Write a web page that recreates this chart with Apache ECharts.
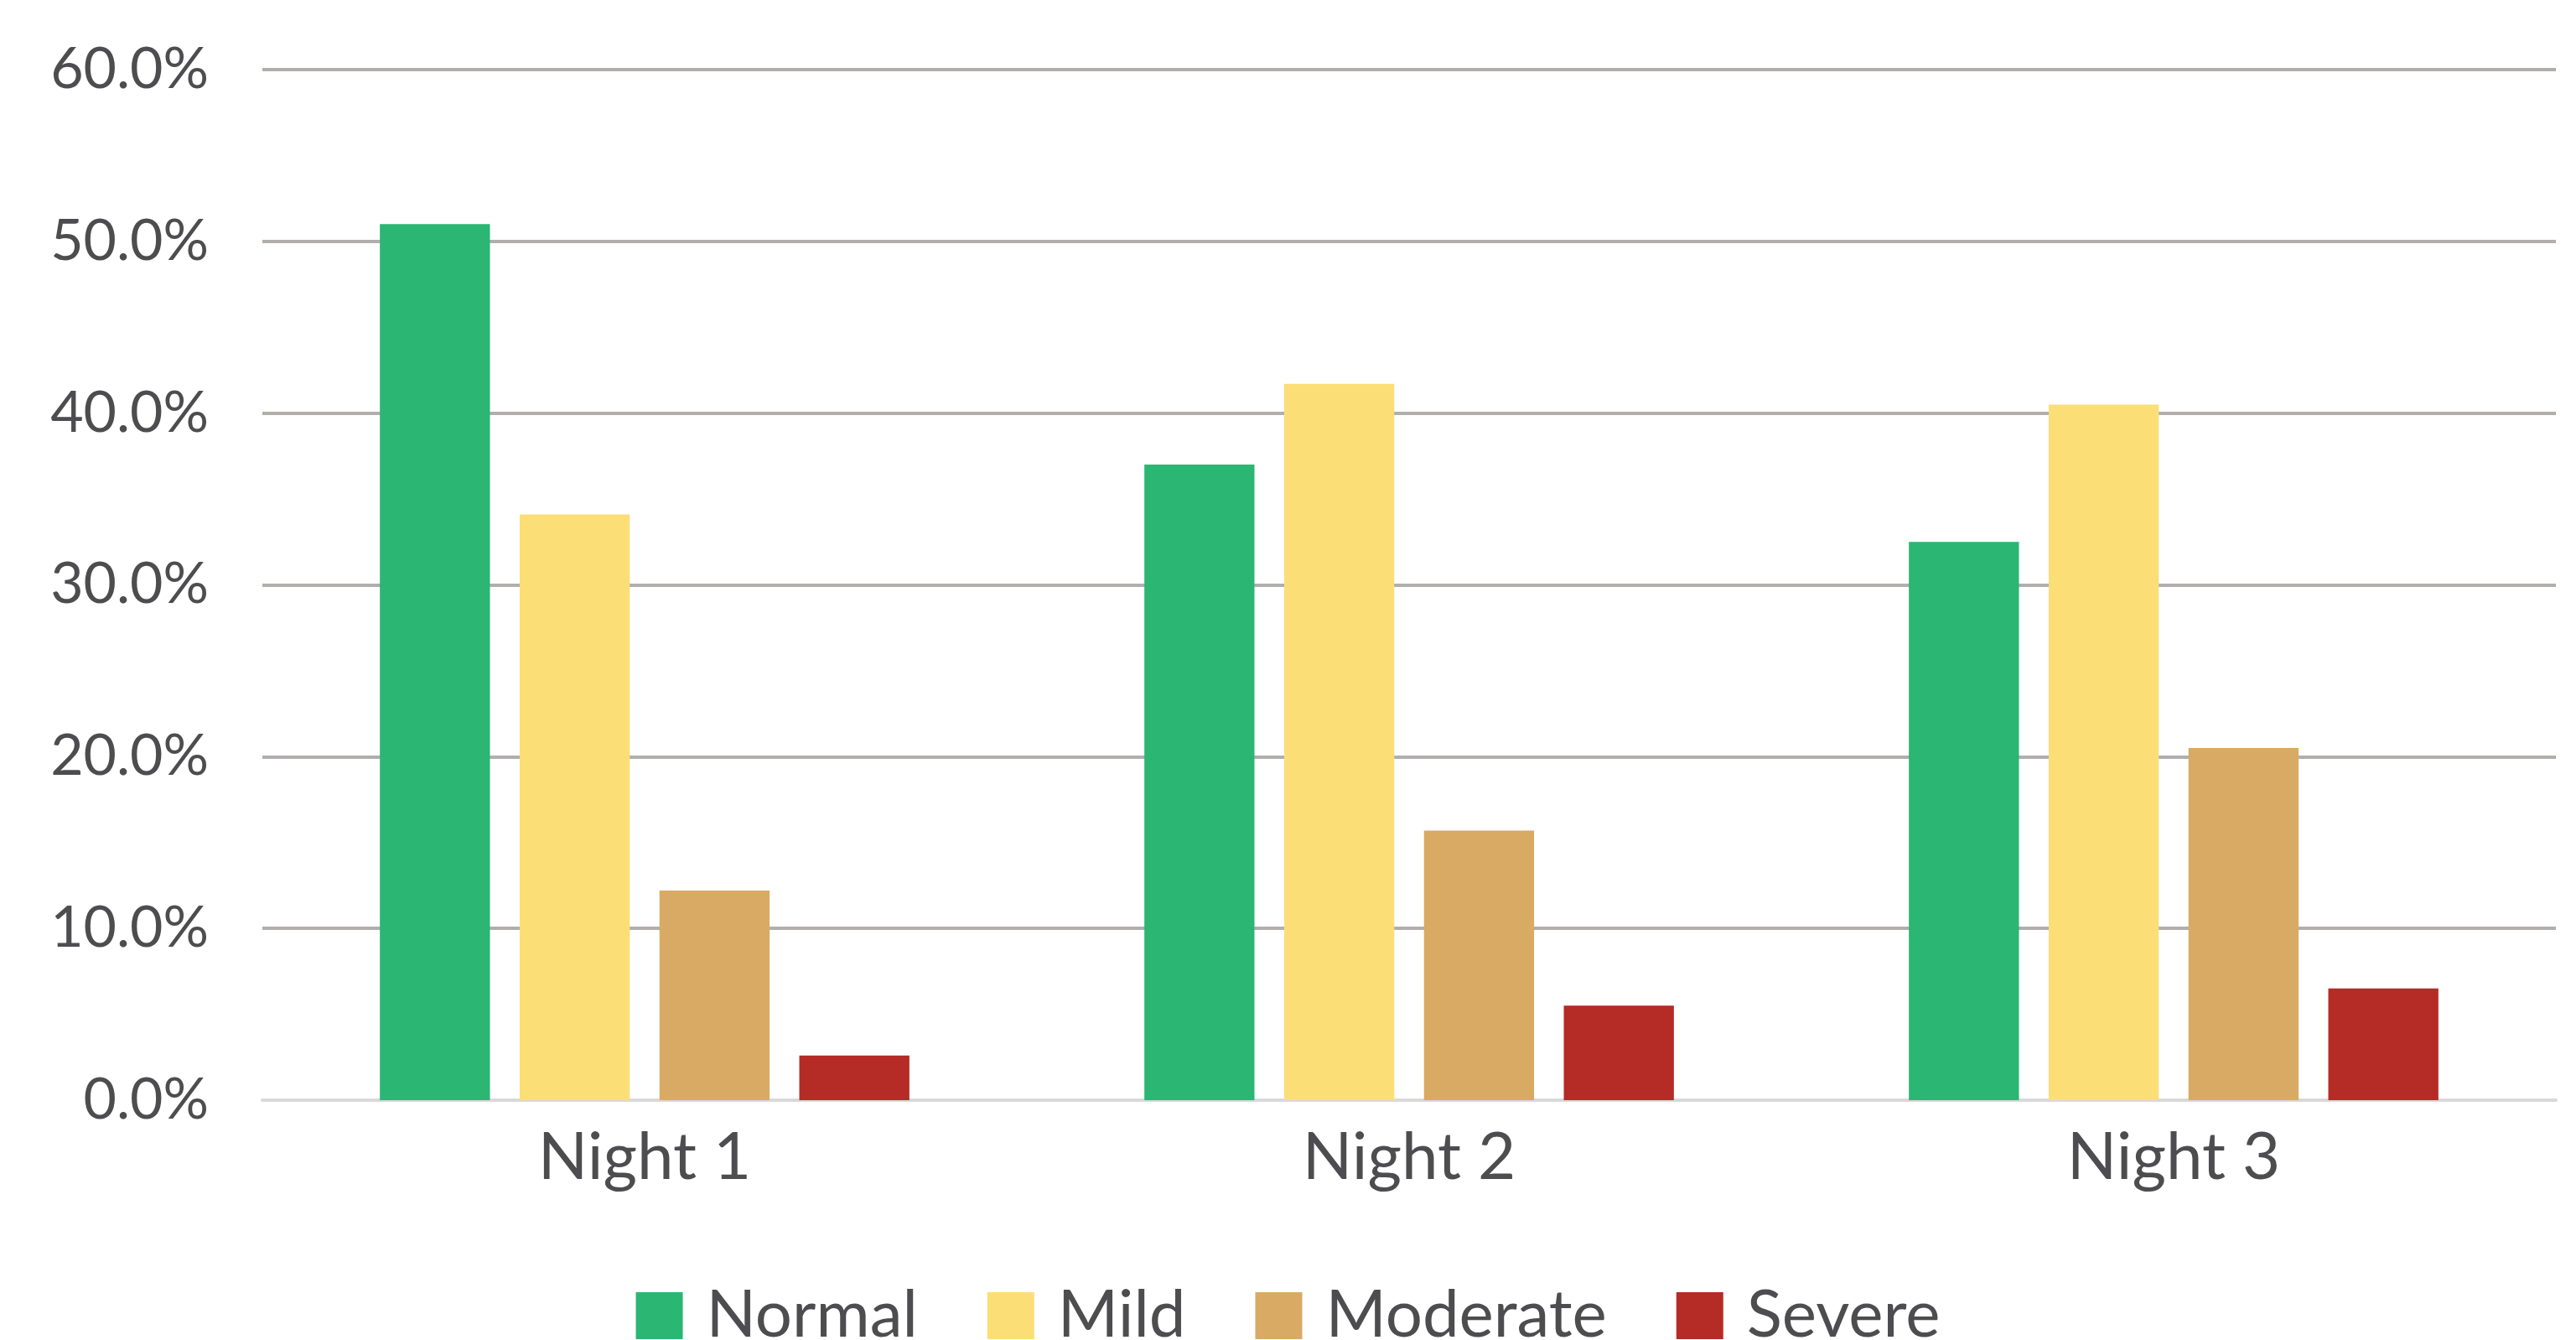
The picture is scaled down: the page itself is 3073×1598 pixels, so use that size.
<!DOCTYPE html>
<html>
<head>
<meta charset="utf-8">
<script src="https://cdn.jsdelivr.net/npm/echarts@6/dist/echarts.min.js"></script>
<style>
  html, body { margin: 0; padding: 0; background: #ffffff; }
  #chart { width: 3073px; height: 1598px; }
</style>
</head>
<body>
<div id="chart"></div>
<script>
// Share of nights by severity class (percent)
const nights = ['Night 1', 'Night 2', 'Night 3'];
const normal = [51.0, 37.0, 32.5];
const mild = [34.1, 41.7, 40.5];
const moderate = [12.2, 15.7, 20.5];
const severe = [2.6, 5.5, 6.5];

const seriesNames = ['Normal', 'Mild', 'Moderate', 'Severe'];
const seriesValues = [normal, mild, moderate, severe];
const seriesColors = ['#2bb673', '#fcde77', '#d8aa64', '#b52b26'];

const FONT = 'Lato, "Open Sans", sans-serif';
const TEXT = '#4d4d4f';

const chart = echarts.init(document.getElementById('chart'), null, { renderer: 'canvas' });

chart.setOption({
  animation: false,
  backgroundColor: '#ffffff',
  textStyle: { fontFamily: FONT },
  grid: { left: 313, right: 24, top: 83, bottom: 286, containLabel: false },
  legend: {
    data: seriesNames,
    left: 'center',
    top: 1525,
    itemWidth: 56,
    itemHeight: 56,
    itemGap: 83,
    icon: 'rect',
    textStyle: { fontFamily: FONT, fontSize: 78, color: TEXT, padding: [0, 0, 0, 23] }
  },
  xAxis: {
    type: 'category',
    data: nights,
    axisTick: { show: false },
    axisLine: { show: true, lineStyle: { color: '#d9d9d9', width: 4 } },
    axisLabel: { fontFamily: FONT, fontSize: 78, color: TEXT, margin: 30 }
  },
  yAxis: {
    type: 'value',
    min: 0,
    max: 60,
    interval: 10,
    axisLine: { show: false },
    axisTick: { show: false },
    splitLine: { lineStyle: { color: '#b1aeac', width: 4 } },
    axisLabel: {
      fontFamily: FONT,
      fontSize: 68,
      color: TEXT,
      margin: 64,
      formatter: v => v.toFixed(1) + '%'
    }
  },
  series: seriesNames.map((name, i) => ({
    name: name,
    type: 'bar',
    data: seriesValues[i],
    barWidth: '14.4%',
    barGap: '27%',
    itemStyle: { color: seriesColors[i] },
    z: 3
  }))
});
</script>
</body>
</html>
